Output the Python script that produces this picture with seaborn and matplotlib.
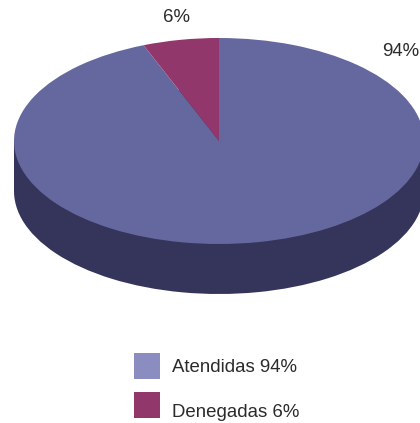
import matplotlib
matplotlib.use("Agg")
import matplotlib.pyplot as plt
from matplotlib.patches import Rectangle
import seaborn as sns

categories = ["Atendidas", "Denegadas"]
values = [94, 6]
slice_labels = ["94%", "6%"]
legend_labels = ["Atendidas 94%", "Denegadas 6%"]

top_colors = ["#65689F", "#92376B"]
side_colors = ["#35345A", "#4A1C36"]
legend_colors = ["#8B8DC1", "#92376B"]

W, H = 420, 423
CX, CY, RX, RY, DEPTH = 219, 141, 205, 103, 50

sns.set_theme(style="white")
plt.rcParams["font.family"] = ["Liberation Sans", "DejaVu Sans"]
TEXT = "#2B2B2B"

fig = plt.figure(figsize=(W / 100, H / 100), dpi=100, facecolor="white")
ax = fig.add_axes([0, 0, 1, 1])

d = DEPTH / RY
# lower rim, then the body joining it to the top face, then the top face
ax.pie(values, colors=[side_colors[0]] * 2, startangle=90, counterclock=False,
       center=(0, -d), radius=1, wedgeprops={"linewidth": 0})
ax.fill_between([-1, 1], [-d, -d], [0, 0], color=side_colors[0], linewidth=0)
ax.pie(values, colors=sns.color_palette(top_colors), startangle=90, counterclock=False,
       center=(0, 0), radius=1, wedgeprops={"linewidth": 0})

ax.set_xlim(-CX / RX, (W - CX) / RX)
ax.set_ylim((CY - H) / RY, CY / RY)
ax.set_aspect("auto")
ax.axis("off")


def px(x, y):
    return x / W, 1 - y / H


for label, (x, y) in zip(slice_labels, [(401, 51), (176, 17)]):
    fig.text(*px(x, y), label, ha="center", va="center", fontsize=13.4, color=TEXT)

swatch_tops = [353, 392]
text_y = [367, 412]
for label, color, top, ty in zip(legend_labels, legend_colors, swatch_tops, text_y):
    fig.add_artist(Rectangle(px(134, top + 26), 26 / W, 26 / H, transform=fig.transFigure,
                             facecolor=color, edgecolor="none"))
    fig.text(*px(172, ty), label, ha="left", va="center", fontsize=13.4, color=TEXT)

fig.savefig("out.png", dpi=100, facecolor="white")
